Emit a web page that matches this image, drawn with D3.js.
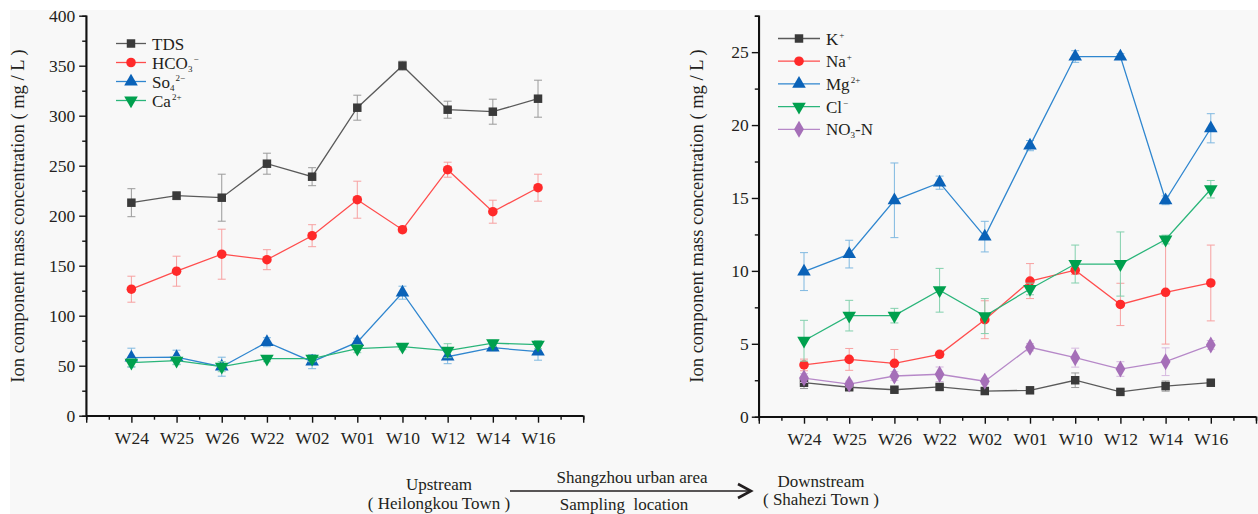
<!DOCTYPE html>
<html>
<head>
<meta charset="utf-8">
<script src="https://cdn.jsdelivr.net/npm/d3@7"></script>
<style>
  body { margin: 0; background: #fff; }
  svg text { font-family: "Liberation Serif", "DejaVu Serif", serif; fill: #231f20; }
</style>
</head>
<body>
<svg id="chart" width="1258" height="514"></svg>
<script>
// sampling sites, upstream -> downstream
var sites = ["W24", "W25", "W26", "W22", "W02", "W01", "W10", "W12", "W14", "W16"];

// left panel (mg/L)
var tds     = [213, 220, 218, 252, 239, 308, 350, 306, 304, 317];
var tdsErr  = [14, 4, 23.5, 10.5, 9, 12.5, 4.5, 8.5, 12.5, 18.5];
var hco3    = [126.5, 144.5, 161.5, 156, 180, 216, 186, 246, 204, 228];
var hco3Err = [13, 15, 25, 10, 11, 18.5, 3, 7.5, 11.5, 13.5];
var so4     = [58, 58.5, 49, 73.5, 54, 73.5, 123, 59, 68, 64];
var so4Err  = [9.5, 7, 9.5, 4.5, 7, 4, 6.5, 7, 3, 8.5];
var ca      = [53, 55, 49, 57, 57, 67, 69, 65, 72.5, 71];
var caErr   = [4, 4, 5, 3, 3, 4, 3, 7, 3, 4];

// right panel (mg/L)
var k      = [2.33, 2.02, 1.85, 2.04, 1.76, 1.81, 2.5, 1.7, 2.1, 2.33];
var kErr   = [0.4, 0.15, 0.15, 0.15, 0.15, 0.2, 0.5, 0.15, 0.35, 0.15];
var na     = [3.55, 3.93, 3.66, 4.28, 6.65, 9.3, 10.05, 7.7, 8.53, 9.17];
var naErr  = [0.4, 0.75, 0.95, 0.2, 1.3, 1.2, 0.3, 1.45, 3.55, 2.6];
var mg     = [9.95, 11.15, 14.84, 16.05, 12.35, 18.59, 24.7, 24.7, 14.84, 19.78];
var mgErr  = [1.3, 0.95, 2.56, 0.45, 1.05, 0.35, 0.4, 0.2, 0.3, 1.0];
var cl     = [5.21, 6.93, 6.93, 8.67, 6.9, 8.76, 10.47, 10.47, 12.15, 15.6];
var clErr  = [1.4, 1.05, 0.5, 1.5, 1.2, 0.4, 1.3, 2.2, 0.3, 0.6];
var no3    = [2.65, 2.24, 2.79, 2.91, 2.43, 4.76, 4.05, 3.27, 3.77, 4.92];
var no3Err = [0.3, 0.2, 0.3, 0.5, 0.2, 0.25, 0.65, 0.5, 0.95, 0.3];

var yLabel = "Ion component mass concentration ( mg / L )";

// colours: marker, line, error bar
var styles = {
  gray:   {mark: "#3a3a3a", line: "#5a5a5a", err: "#9a9a9a"},
  red:    {mark: "#ff2a2a", line: "#ff4d4d", err: "#f7a0a0"},
  blue:   {mark: "#0a62b8", line: "#2f86cf", err: "#7fb8e0"},
  green:  {mark: "#00a04e", line: "#2ab57a", err: "#82d0ad"},
  purple: {mark: "#a56fb8", line: "#b688c8", err: "#d5b8df"}
};

// name parts: [main, subscript, superscript, trailing]
var leftSeries = [
  {name: ["TDS"], vals: tds, err: tdsErr, sym: "square", c: styles.gray},
  {name: ["HCO", "3", "−"], vals: hco3, err: hco3Err, sym: "circle", c: styles.red},
  {name: ["So", "4", "2−"], vals: so4, err: so4Err, sym: "up", c: styles.blue},
  {name: ["Ca", "", "2+"], vals: ca, err: caErr, sym: "down", c: styles.green}
];
var rightSeries = [
  {name: ["K", "", "+"], vals: k, err: kErr, sym: "square", c: styles.gray},
  {name: ["Na", "", "+"], vals: na, err: naErr, sym: "circle", c: styles.red},
  {name: ["Mg", "", "2+"], vals: mg, err: mgErr, sym: "up", c: styles.blue},
  {name: ["Cl", "", "−"], vals: cl, err: clErr, sym: "down", c: styles.green},
  {name: ["NO", "3", "", "-N"], vals: no3, err: no3Err, sym: "diamond", c: styles.purple}
];

var svg = d3.select("#chart");
svg.append("rect").attr("x", 10).attr("y", 10).attr("width", 1248).attr("height", 504)
  .attr("fill", "#f8f8f8");

function symbolPath(sym) {
  var type = {square: d3.symbolSquare, circle: d3.symbolCircle, up: d3.symbolTriangle,
              down: d3.symbolTriangle, diamond: d3.symbolDiamond}[sym];
  var size = {square: 72, circle: 72, up: 80, down: 80, diamond: 84}[sym];
  return d3.symbol().type(type).size(size)();
}

function drawPanel(opt) {
  var x = d3.scaleLinear().domain([0, 11]).range(opt.xr);
  var y = d3.scaleLinear().domain(opt.yd).range(opt.yr);
  var g = svg.append("g");

  // axes
  var xAxis = g.append("g").attr("transform", "translate(0," + opt.yr[0] + ")")
    .call(d3.axisBottom(x).tickValues(d3.range(0, 12)).tickSize(7).tickPadding(9)
      .tickFormat(function(i) { return sites[i - 1] || ""; }));
  g.append("g").attr("transform", "translate(0," + opt.yr[0] + ")")
    .call(d3.axisBottom(x).tickValues(d3.range(0.5, 11, 1)).tickSize(4).tickFormat(""));
  var yAxis = g.append("g").attr("transform", "translate(" + opt.xr[0] + ",0)")
    .call(d3.axisLeft(y).tickValues(opt.major).tickSize(7).tickPadding(opt.pad));
  g.append("g").attr("transform", "translate(" + opt.xr[0] + ",0)")
    .call(d3.axisLeft(y).tickValues(opt.minor).tickSize(4).tickFormat(""));
  g.selectAll("g").attr("font-family", null).attr("font-size", null);
  g.selectAll(".domain").attr("stroke", "#111").attr("stroke-width", 1.6);
  g.selectAll(".tick line").attr("stroke", "#111").attr("stroke-width", 1.4);
  g.selectAll(".tick text").style("font-size", "17.5px").attr("fill", "#231f20");
  yAxis.select(".domain").attr("d", "M0," + opt.yr[0] + "V" + opt.yr[1]);
  xAxis.select(".domain").attr("d", "M" + opt.xr[0] + ",0H" + opt.xr[1]);

  g.append("text")
    .attr("transform", "translate(" + opt.labelX + "," + opt.labelY + ") rotate(-90)")
    .attr("text-anchor", "middle").style("font-size", "18.5px")
    .text(yLabel);

  var line = d3.line().x(function(d, i) { return x(i + 1); }).y(function(d) { return y(d); });

  opt.series.forEach(function(s) {
    var sg = g.append("g");
    // error bars
    s.vals.forEach(function(v, i) {
      var cx = x(i + 1), y1 = y(v + s.err[i]), y0 = y(v - s.err[i]);
      sg.append("path")
        .attr("d", "M" + cx + "," + y1 + "V" + y0 +
                   "M" + (cx - 4) + "," + y1 + "H" + (cx + 4) +
                   "M" + (cx - 4) + "," + y0 + "H" + (cx + 4))
        .attr("stroke", s.c.err).attr("stroke-width", 1).attr("fill", "none");
    });
    sg.append("path").attr("d", line(s.vals)).attr("fill", "none")
      .attr("stroke", s.c.line).attr("stroke-width", 1.3);
    sg.selectAll(".m").data(s.vals).enter().append("path")
      .attr("d", symbolPath(s.sym))
      .attr("transform", function(d, i) {
        return "translate(" + x(i + 1) + "," + y(d) + ")" + (s.sym === "down" ? " rotate(180)" : "");
      })
      .attr("fill", s.c.mark);
  });

  // legend
  opt.series.forEach(function(s, i) {
    var ly = opt.leg.y + i * opt.leg.dy;
    var lg = g.append("g");
    lg.append("line").attr("x1", opt.leg.x0).attr("x2", opt.leg.x1)
      .attr("y1", ly).attr("y2", ly).attr("stroke", s.c.line).attr("stroke-width", 1.3);
    lg.append("path").attr("d", symbolPath(s.sym))
      .attr("transform", "translate(" + (opt.leg.x0 + opt.leg.x1) / 2 + "," + ly + ")" +
            (s.sym === "down" ? " rotate(180)" : ""))
      .attr("fill", s.c.mark);
    var t = lg.append("text").attr("x", opt.leg.x1 + 6).attr("y", ly + 6).style("font-size", "17px");
    t.append("tspan").text(s.name[0]);
    if (s.name[1]) t.append("tspan").attr("dy", 3).style("font-size", "9px").text(s.name[1]);
    if (s.name[2]) t.append("tspan").attr("dx", 1).attr("dy", s.name[1] ? -10 : -7)
      .style("font-size", "9px").text(s.name[2]);
    if (s.name[3]) t.append("tspan").attr("dy", s.name[1] ? -3 : 7).text(s.name[3]);
  });
}

drawPanel({
  xr: [86.2, 583.2], yd: [0, 400], yr: [415.7, 15.7],
  major: d3.range(0, 401, 50), minor: d3.range(25, 400, 50), pad: 4,
  labelX: 24, labelY: 216, series: leftSeries,
  leg: {x0: 116, x1: 146, y: 43.5, dy: 19}
});

drawPanel({
  xr: [758.8, 1256], yd: [0, 27.5], yr: [416.7, 15.7],
  major: d3.range(0, 26, 5), minor: d3.range(2.5, 28, 5), pad: 3,
  labelX: 703, labelY: 216, series: rightSeries,
  leg: {x0: 778, x1: 820, y: 38.5, dy: 22.7}
});

// upstream -> downstream annotation
var ann = svg.append("g").style("font-size", "17px").attr("text-anchor", "middle");
ann.append("text").attr("x", 439).attr("y", 490).text("Upstream");
ann.append("text").attr("x", 439).attr("y", 509).text("( Heilongkou Town )");
ann.append("text").attr("x", 632).attr("y", 483).text("Shangzhou urban area");
ann.append("text").attr("x", 624).attr("y", 510).style("white-space", "pre").text("Sampling  location");
ann.append("text").attr("x", 821).attr("y", 487).text("Downstream");
ann.append("text").attr("x", 821).attr("y", 505).text("( Shahezi Town )");
svg.append("line").attr("x1", 510).attr("x2", 750).attr("y1", 491).attr("y2", 491)
  .attr("stroke", "#231f20").attr("stroke-width", 1.3);
svg.append("path").attr("d", "M738,484L751,491L738,498").attr("fill", "none")
  .attr("stroke", "#231f20").attr("stroke-width", 2.6);
</script>
</body>
</html>
